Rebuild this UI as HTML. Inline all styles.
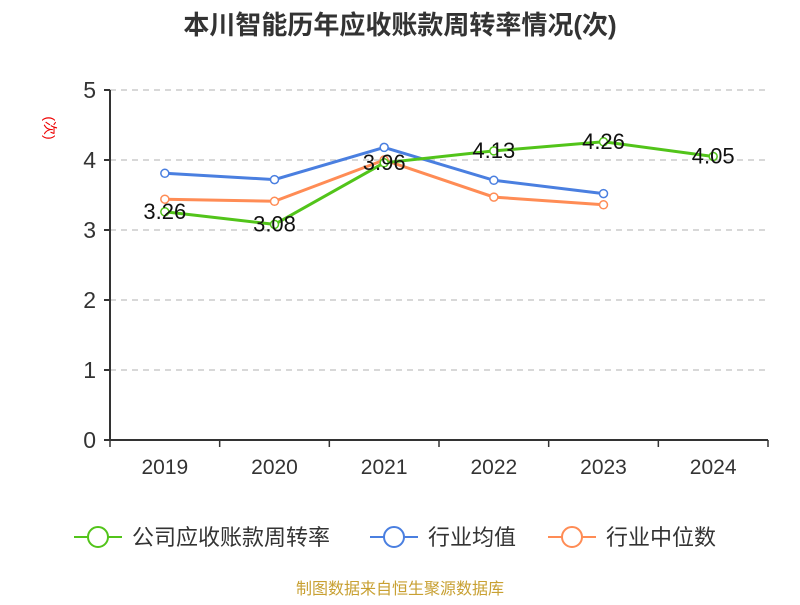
<!DOCTYPE html>
<html><head><meta charset="utf-8"><style>
body{margin:0;background:#fff;font-family:"Liberation Sans","Noto Sans CJK SC",sans-serif}
</style></head><body>
<svg width="800" height="600" xmlns="http://www.w3.org/2000/svg" font-family="Liberation Sans, Noto Sans CJK SC, sans-serif">
<text x="400" y="34" text-anchor="middle" font-size="26" font-weight="bold" fill="#333">本川智能历年应收账款周转率情况(次)</text>
<text transform="translate(45,128) rotate(90)" text-anchor="middle" font-size="14" fill="#e00">(次)</text>
<g id="grid"></g><g id="axes"></g><g id="series"></g>
<g font-size="22" fill="#333">
<g><line x1="74" y1="537" x2="122" y2="537" stroke="#52c41a" stroke-width="2"/><circle cx="98" cy="537" r="10" fill="#fff" stroke="#52c41a" stroke-width="2"/><text x="132" y="545">公司应收账款周转率</text></g>
<g><line x1="370" y1="537" x2="418" y2="537" stroke="#4a7fe0" stroke-width="2"/><circle cx="394" cy="537" r="10" fill="#fff" stroke="#4a7fe0" stroke-width="2"/><text x="428" y="545">行业均值</text></g>
<g><line x1="548" y1="537" x2="596" y2="537" stroke="#ff8c55" stroke-width="2"/><circle cx="572" cy="537" r="10" fill="#fff" stroke="#ff8c55" stroke-width="2"/><text x="606" y="545">行业中位数</text></g>
</g>
<text x="400" y="594" text-anchor="middle" font-size="16" fill="#c8a032">制图数据来自恒生聚源数据库</text>
</svg>
<script>
const categories=["2019","2020","2021","2022","2023","2024"];
const company=[3.26,3.08,3.96,4.13,4.26,4.05];
const average=[3.81,3.72,4.18,3.71,3.52,null];
const median=[3.44,3.41,4.0,3.47,3.36,null];
const yTicks=[0,1,2,3,4,5];
const NS="http://www.w3.org/2000/svg";
const L=110,R=768,T=90,B=440,yMax=5;
const bw=(R-L)/categories.length;
const x=i=>L+bw*(i+0.5);
const y=v=>B-(v/yMax)*(B-T);
function el(tag,attrs,parent,text){const e=document.createElementNS(NS,tag);for(const k in attrs)e.setAttribute(k,attrs[k]);if(text!=null)e.textContent=text;parent.appendChild(e);return e;}
const grid=document.getElementById('grid'),axes=document.getElementById('axes'),series=document.getElementById('series');
yTicks.forEach(t=>{
 if(t>0){const g=el('line',{x1:L,x2:R,y1:y(t),y2:y(t),stroke:'#ccc','stroke-dasharray':'6,5','stroke-width':1.5},grid);
 
 }
 el('line',{x1:L-6,x2:L,y1:y(t),y2:y(t),stroke:'#333','stroke-width':2},axes);
 const lb=el('text',{x:L-14,y:y(t)+8,'text-anchor':'end','font-size':23,fill:'#333'},axes,String(t));
 
 
});
el('line',{x1:L,x2:L,y1:T,y2:B,stroke:'#333','stroke-width':2},axes);
el('line',{x1:L,x2:R,y1:B,y2:B,stroke:'#333','stroke-width':2},axes);
for(let i=0;i<=categories.length;i++)el('line',{x1:L+bw*i,x2:L+bw*i,y1:B,y2:B+7,stroke:'#333','stroke-width':1.5},axes);
categories.forEach((c,i)=>{const t=el('text',{x:x(i),y:B+34,'text-anchor':'middle','font-size':21,fill:'#333'},axes,c);
 
 });
function draw(data,color,name,labels){
 const pts=data.map((v,i)=>v==null?null:[x(i),y(v)]).filter(p=>p);
 const p=el('polyline',{points:pts.map(q=>q.join(',')).join(' '),fill:'none',stroke:color,'stroke-width':3},series);
 
 
 data.forEach((v,i)=>{if(v==null)return;
  const c=el('circle',{cx:x(i),cy:y(v),r:4,fill:'#fff',stroke:color,'stroke-width':1.5},series);
  
  
  if(labels){const t=el('text',{x:x(i),y:y(v)+7,'text-anchor':'middle','font-size':22,fill:'#111'},series,v.toFixed(2));
   
   }
 });
}
draw(median,'#ff8c55','median',false);
draw(average,'#4a7fe0','average',false);
draw(company,'#52c41a','company',true);
</script>
</body></html>
